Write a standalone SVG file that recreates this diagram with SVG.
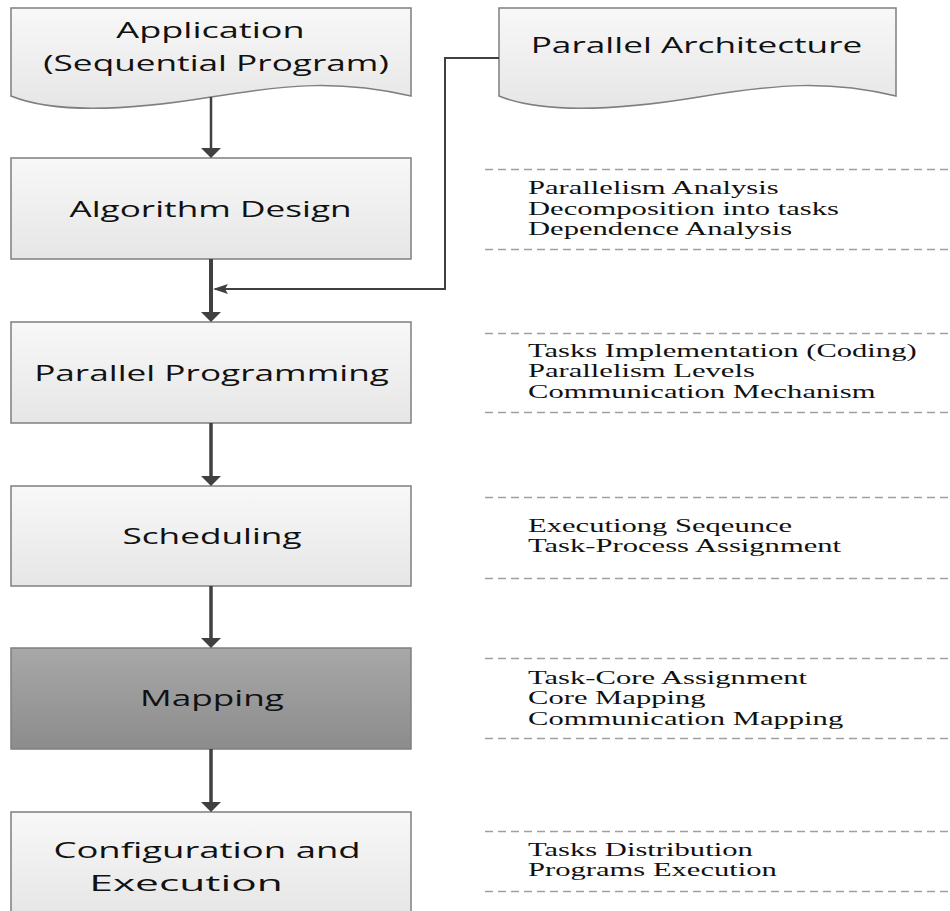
<svg xmlns="http://www.w3.org/2000/svg" width="950" height="911" viewBox="0 0 950 911">
  <style>
    .box { stroke: #7f7f7f; stroke-width: 1.5; }
    .light { fill: url(#gLight); }
    .dark { fill: url(#gDark); }
    .lbl { font-family: "Open Sans", "Liberation Sans", sans-serif; font-size: 22px; fill: #111; text-anchor: middle; }
    .note { font-family: "Liberation Serif", "Times New Roman", serif; font-size: 18px; fill: #111; }
    .sep { stroke: #a0a0a0; stroke-width: 1.3; stroke-dasharray: 8 5; fill: none; }
    .flow { stroke: #404040; fill: none; }
  </style>
  <defs>
    <linearGradient id="gLight" x1="0" y1="0" x2="0" y2="1">
      <stop offset="0" stop-color="#f8f8f8"/>
      <stop offset="1" stop-color="#e6e6e6"/>
    </linearGradient>
    <linearGradient id="gDark" x1="0" y1="0" x2="0" y2="1">
      <stop offset="0" stop-color="#a8a8a8"/>
      <stop offset="1" stop-color="#8c8c8c"/>
    </linearGradient>
    <marker id="head" viewBox="0 0 10 20" refX="6" refY="10" markerWidth="10" markerHeight="20" orient="auto" markerUnits="userSpaceOnUse">
      <path d="M0,0 L10,10 L0,20 z" fill="#404040"/>
    </marker>
    <marker id="headSmall" viewBox="0 0 15 10" refX="13" refY="5" markerWidth="15" markerHeight="10" orient="auto" markerUnits="userSpaceOnUse">
      <path d="M0,0 L15,5 L0,10 L3,5 z" fill="#404040"/>
    </marker>
  </defs>

  <!-- side notes with dashed separators -->
  <g id="notes">
    <line class="sep" x1="485" y1="169.5" x2="950" y2="169.5"/>
    <line class="sep" x1="485" y1="249.5" x2="950" y2="249.5"/>
    <line class="sep" x1="485" y1="333.5" x2="950" y2="333.5"/>
    <line class="sep" x1="485" y1="412.5" x2="950" y2="412.5"/>
    <line class="sep" x1="485" y1="497.5" x2="950" y2="497.5"/>
    <line class="sep" x1="485" y1="578.5" x2="950" y2="578.5"/>
    <line class="sep" x1="485" y1="658.5" x2="950" y2="658.5"/>
    <line class="sep" x1="485" y1="738.5" x2="950" y2="738.5"/>
    <line class="sep" x1="485" y1="831.5" x2="950" y2="831.5"/>
    <line class="sep" x1="485" y1="891.5" x2="950" y2="891.5"/>

    <!-- note text is drawn in a horizontally widened frame -->
    <g transform="translate(528,0) scale(1.7,1)">
      <text class="note" x="0" y="194">Parallelism Analysis</text>
      <text class="note" x="0" y="215">Decomposition into tasks</text>
      <text class="note" x="0" y="235.5">Dependence Analysis</text>

      <text class="note" x="0" y="357">Tasks Implementation (Coding)</text>
      <text class="note" x="0" y="377.5">Parallelism Levels</text>
      <text class="note" x="0" y="398">Communication Mechanism</text>

      <text class="note" x="0" y="532">Executiong Seqeunce</text>
      <text class="note" x="0" y="552.5">Task-Process Assignment</text>

      <text class="note" x="0" y="684">Task-Core Assignment</text>
      <text class="note" x="0" y="704.5">Core Mapping</text>
      <text class="note" x="0" y="725">Communication Mapping</text>

      <text class="note" x="0" y="856">Tasks Distribution</text>
      <text class="note" x="0" y="876.5">Programs Execution</text>
    </g>
  </g>

  <!-- process nodes -->
  <g id="application">
    <path class="box light" d="M11,8 H411 V96 C340,80 290,84 211,97 C120,112 50,112 11,96 Z"/>
    <text class="lbl" transform="translate(210.5,37.5) scale(1.64,1)">Application</text>
    <text class="lbl" transform="translate(216,70.5) scale(1.6,1)">(Sequential Program)</text>
  </g>

  <g id="parallel-architecture">
    <path class="box light" d="M499,8 H896 V96 C828,80 778,84 699,97 C608,112 538,112 499,96 Z"/>
    <text class="lbl" transform="translate(696.5,52.5) scale(1.6,1)">Parallel Architecture</text>
  </g>

  <g id="algorithm-design">
    <rect class="box light" x="11" y="158" width="400" height="101"/>
    <text class="lbl" transform="translate(210.5,216.5) scale(1.6,1)">Algorithm Design</text>
  </g>

  <g id="parallel-programming">
    <rect class="box light" x="11" y="322" width="400" height="101"/>
    <text class="lbl" transform="translate(211.5,380.5) scale(1.6,1)">Parallel Programming</text>
  </g>

  <g id="scheduling">
    <rect class="box light" x="11" y="486" width="400" height="100"/>
    <text class="lbl" transform="translate(212,544) scale(1.6,1)">Scheduling</text>
  </g>

  <g id="mapping">
    <rect class="box dark" x="11" y="648" width="400" height="101"/>
    <text class="lbl" transform="translate(212,705.5) scale(1.6,1)">Mapping</text>
  </g>

  <g id="configuration">
    <rect class="box light" x="11" y="812" width="400" height="102"/>
    <text class="lbl" transform="translate(207,857.5) scale(1.66,1)">Configuration and</text>
    <text class="lbl" transform="translate(186,891) scale(1.93,1)">Execution</text>
  </g>

  <!-- connectors -->
  <g id="connectors">
    <path class="flow" stroke-width="2.5" d="M211,97 V154" marker-end="url(#head)"/>
    <path class="flow" stroke-width="4" d="M211,259 V318" marker-end="url(#head)"/>
    <path class="flow" stroke-width="2" d="M499,58 H445 V289 H215" marker-end="url(#headSmall)"/>
    <path class="flow" stroke-width="3.5" d="M211,423 V482" marker-end="url(#head)"/>
    <path class="flow" stroke-width="3.5" d="M211,586 V644" marker-end="url(#head)"/>
    <path class="flow" stroke-width="3.5" d="M211,749 V808" marker-end="url(#head)"/>
  </g>
</svg>
